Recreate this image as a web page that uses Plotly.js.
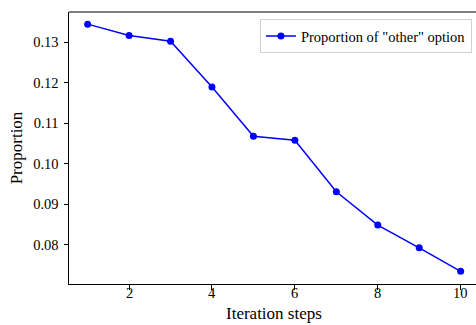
<!DOCTYPE html>
<html>
<head>
<meta charset="utf-8">
<script src="https://cdn.plot.ly/plotly-3.0.1.min.js"></script>
<style>html,body{margin:0;padding:0;background:#fff;overflow:hidden;}</style>
</head>
<body>
<div id="chart" style="width:476px;height:325px;"></div>
<script>
const steps = [1, 2, 3, 4, 5, 6, 7, 8, 9, 10];
const proportion = [0.1344, 0.1316, 0.1302, 0.1189, 0.1068, 0.1058, 0.0931, 0.0849, 0.0793, 0.0735];
const xTicks = [2, 4, 6, 8, 10];
const xTickText = ["2", "4", "6", "8", "10"];
const yTicks = [0.08, 0.09, 0.10, 0.11, 0.12, 0.13];
const yTickText = ["0.08", "0.09", "0.10", "0.11", "0.12", "0.13"];
const xTitle = "Iteration steps";
const yTitle = "Proportion";

const font = "Liberation Serif, Times New Roman, serif";

const trace = {
  x: steps, y: proportion, type: "scatter", mode: "lines+markers",
  name: 'Proportion of "other" option',
  line: {color: "#0000ff", width: 1.5},
  marker: {color: "#0000ff", size: 7}
};

// x tick labels placed through the x axis scale (xref "x")
const tickAnnotations = xTicks.map((v, i) => ({
  text: xTickText[i], xref: "x", yref: "paper", x: v, y: 0,
  xanchor: "center", yanchor: "top", showarrow: false, borderpad: 0,
  font: {family: font, size: 14.5, color: "#000"}
}));

const layout = {
  width: 476, height: 325,
  margin: {l: 69, r: 0, t: 12, b: 41},
  paper_bgcolor: "#fff", plot_bgcolor: "#fff",
  font: {family: font, size: 14.5, color: "#000"},
  showlegend: true,
  legend: {
    x: 0.990, xanchor: "right", xref: "paper",
    y: 0.974, yanchor: "top",
    bgcolor: "rgba(255,255,255,0.8)", bordercolor: "#d0d0d0", borderwidth: 1,
    font: {family: font, size: 14.5, color: "#000"}
  },
  xaxis: {
    range: [0.55, 10.37], tickvals: xTicks, showticklabels: false,
    ticks: "outside", ticklen: 4.5, tickwidth: 1, tickcolor: "#000",
    showgrid: false, zeroline: false, showline: true, linecolor: "#000", linewidth: 1,
    automargin: false
  },
  yaxis: {
    range: [0.07039, 0.13739], tickvals: yTicks, ticktext: yTickText,
    ticks: "outside", ticklen: 4.5, tickwidth: 1, tickcolor: "#000",
    ticklabelstandoff: 2,
    showgrid: false, zeroline: false, showline: true, linecolor: "#000", linewidth: 1,
    tickfont: {family: font, size: 14.5, color: "#000"},
    title: {text: yTitle, font: {family: font, size: 17, color: "#000"}, standoff: 6},
    automargin: false
  },
  annotations: tickAnnotations.concat([{
    text: xTitle, xref: "paper", yref: "paper", x: 0.504, y: -0.108,
    xanchor: "center", yanchor: "middle", showarrow: false, borderpad: 0,
    font: {family: font, size: 17, color: "#000"}
  }]),
  shapes: [{type: "line", xref: "paper", yref: "paper", x0: 0, x1: 1, y0: 1, y1: 1,
            line: {color: "#000", width: 1}}]
};

Plotly.newPlot("chart", [trace], layout, {displayModeBar: false, staticPlot: true});
</script>
</body>
</html>
